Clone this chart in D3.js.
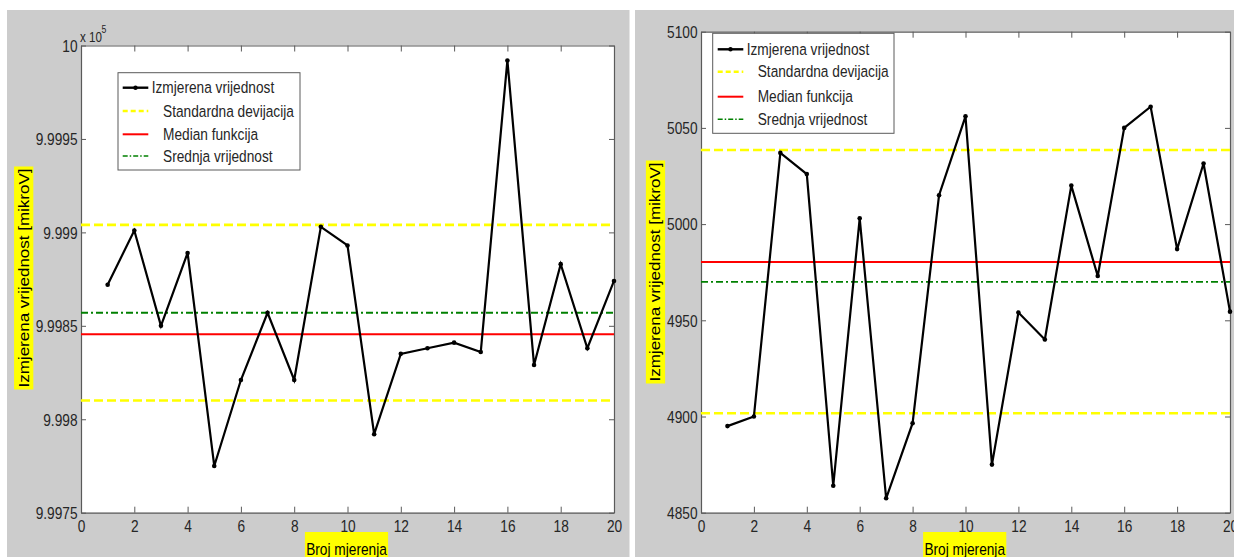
<!DOCTYPE html>
<html>
<head>
<meta charset="utf-8">
<script src="https://cdn.jsdelivr.net/npm/d3@7"></script>
<style>
  html, body { margin: 0; padding: 0; background: #ffffff; }
  svg { display: block; }
  text { font-family: "Liberation Sans", Arial, sans-serif; }
</style>
</head>
<body>
<svg id="chart" width="1234" height="557"></svg>
<script>
// ---------------- DATA ----------------
const measurementNo = [1, 2, 3, 4, 5, 6, 7, 8, 9, 10, 11, 12, 13, 14, 15, 16, 17, 18, 19, 20];
const xTicks = [0, 2, 4, 6, 8, 10, 12, 14, 16, 18, 20];

// left chart (values in units of x 10^5 mikroV)
const leftValues = [9.99872, 9.99901, 9.99850, 9.99889, 9.99775, 9.99821, 9.99857, 9.99821, 9.99903, 9.99893,
                    9.99792, 9.99835, 9.99838, 9.99841, 9.99836, 9.99992, 9.99829, 9.99883, 9.99838, 9.99874];
const leftStdLines = [9.99810, 9.99904];
const leftMedian = 9.998455;
const leftMean = 9.99857;
const leftYDomain = [9.9975, 10];
const leftYTicks = [9.9975, 9.998, 9.9985, 9.999, 9.9995, 10];
const leftYTickLabels = ["9.9975", "9.998", "9.9985", "9.999", "9.9995", "10"];
const leftExponent = "5";

// right chart
const rightValues = [4895, 4900, 5037, 5026, 4864, 5003, 4857.5, 4896.5, 5015, 5056,
                     4875, 4954, 4940, 5020, 4973, 5050, 5061, 4987, 5031.5, 4954.5];
const rightStdLines = [4901.7, 5038.5];
const rightMedian = 4980.3;
const rightMean = 4970;
const rightYDomain = [4850, 5100];
const rightYTicks = [4850, 4900, 4950, 5000, 5050, 5100];
const rightYTickLabels = ["4850", "4900", "4950", "5000", "5050", "5100"];

const legendLabels = ["Izmjerena vrijednost", "Standardna devijacija", "Median funkcija", "Srednja vrijednost"];
const xAxisTitle = "Broj mjerenja";
const yAxisTitle = "Izmjerena vrijednost [mikroV]";

// ---------------- DRAWING ----------------
const svg = d3.select("#chart");
const SX = 0.83;          // horizontal squeeze of the original picture
const FS = 16.5;          // base font size
const TEXT = "#262626";
const AXIS = "#5a5a5a";

function sText(g, x, y, str, opts = {}) {
  const t = g.append("text")
    .attr("transform", `translate(${x},${y}) scale(${SX},1)`)
    .attr("font-size", opts.size || FS)
    .attr("fill", opts.fill || TEXT)
    .attr("text-anchor", opts.anchor || "start")
    .attr("dy", opts.dy || "0.35em")
    .text(str);
  return t;
}

function drawPanel(cfg) {
  const g = svg.append("g");
  // figure background
  g.append("rect").attr("x", cfg.bg[0]).attr("y", cfg.bg[1]).attr("width", cfg.bg[2]).attr("height", cfg.bg[3])
    .attr("fill", "#cccccc");

  const x = d3.scaleLinear().domain([0, 20]).range([cfg.plot.x0, cfg.plot.x1]);
  const y = d3.scaleLinear().domain(cfg.yDomain).range([cfg.plot.y1, cfg.plot.y0]);

  // plot area
  g.append("rect").attr("x", cfg.plot.x0).attr("y", cfg.plot.y0)
    .attr("width", cfg.plot.x1 - cfg.plot.x0).attr("height", cfg.plot.y1 - cfg.plot.y0)
    .attr("fill", "#ffffff");

  // axes with inward ticks
  const styleAxis = sel => {
    sel.select(".domain").attr("stroke", AXIS).attr("stroke-width", 1.2);
    sel.selectAll(".tick line").attr("stroke", AXIS).attr("stroke-width", 1);
  };
  const bottom = g.append("g").attr("transform", `translate(0,${cfg.plot.y1})`)
    .call(d3.axisBottom(x).tickValues(xTicks).tickSizeInner(-6).tickSizeOuter(0).tickFormat(d3.format("d")));
  styleAxis(bottom);
  bottom.selectAll(".tick text").attr("font-size", FS).attr("fill", TEXT)
    .attr("y", 8).attr("dy", "0.71em").attr("transform", `scale(${SX},1)`)
    .attr("x", 0);

  const top = g.append("g").attr("transform", `translate(0,${cfg.plot.y0})`)
    .call(d3.axisTop(x).tickValues(xTicks).tickSizeInner(-6).tickSizeOuter(0).tickFormat(""));
  styleAxis(top);

  const left = g.append("g").attr("transform", `translate(${cfg.plot.x0},0)`)
    .call(d3.axisLeft(y).tickValues(cfg.yTicks).tickSizeInner(-5).tickSizeOuter(0)
      .tickFormat((d, i) => cfg.yTickLabels[i]));
  styleAxis(left);
  left.selectAll(".tick text").attr("font-size", FS).attr("fill", TEXT)
    .attr("x", -3.5 / SX).attr("dy", "0.35em").attr("transform", `scale(${SX},1)`);

  const right = g.append("g").attr("transform", `translate(${cfg.plot.x1},0)`)
    .call(d3.axisRight(y).tickValues(cfg.yTicks).tickSizeInner(-5).tickSizeOuter(0).tickFormat(""));
  styleAxis(right);
  g.selectAll(".domain").attr("fill", "none");
  g.selectAll(".tick text").attr("font-family", '"Liberation Sans", Arial, sans-serif');

  const xr = [0, 20];
  // standard deviation lines
  g.selectAll(".std").data(cfg.std).enter().append("line")
    .attr("x1", x(xr[0])).attr("x2", x(xr[1]))
    .attr("y1", d => y(d)).attr("y2", d => y(d))
    .attr("stroke", "#ffff00").attr("stroke-width", 2.6).attr("stroke-dasharray", "9,4");
  // median
  g.append("line").attr("x1", x(xr[0])).attr("x2", x(xr[1]))
    .attr("y1", y(cfg.median)).attr("y2", y(cfg.median))
    .attr("stroke", "#ff0000").attr("stroke-width", 2);
  // mean
  g.append("line").attr("x1", x(xr[0])).attr("x2", x(xr[1]))
    .attr("y1", y(cfg.mean)).attr("y2", y(cfg.mean))
    .attr("stroke", "#008000").attr("stroke-width", 1.8).attr("stroke-dasharray", "7,3,2,3");

  // measured values
  const line = d3.line().x((d, i) => x(measurementNo[i])).y(d => y(d));
  g.append("path").datum(cfg.values).attr("d", line)
    .attr("fill", "none").attr("stroke", "#000000").attr("stroke-width", 2.2)
    .attr("stroke-linejoin", "miter");
  g.selectAll(".pt").data(cfg.values).enter().append("circle")
    .attr("cx", (d, i) => x(measurementNo[i])).attr("cy", d => y(d)).attr("r", 2.3)
    .attr("fill", "#000000");

  // legend
  const L = cfg.legend;
  g.append("rect").attr("x", L.x).attr("y", L.y).attr("width", L.w).attr("height", L.h)
    .attr("fill", "#ffffff").attr("stroke", AXIS).attr("stroke-width", 1);
  const styles = [
    {stroke: "#000000", w: 2.4, dash: null, marker: true},
    {stroke: "#ffff00", w: 2.4, dash: "5,3", marker: false},
    {stroke: "#ff0000", w: 2, dash: null, marker: false},
    {stroke: "#008000", w: 1.6, dash: "5,2,1.5,2", marker: false}
  ];
  legendLabels.forEach((lab, i) => {
    const ry = L.rows[i];
    const s = styles[i];
    const ln = g.append("line").attr("x1", L.sample[0]).attr("x2", L.sample[1]).attr("y1", ry).attr("y2", ry)
      .attr("stroke", s.stroke).attr("stroke-width", s.w);
    if (s.dash) ln.attr("stroke-dasharray", s.dash);
    if (s.marker) g.append("circle").attr("cx", (L.sample[0] + L.sample[1]) / 2).attr("cy", ry).attr("r", 2.2).attr("fill", "#000");
    sText(g, i === 0 ? L.text0 : L.text, ry, lab, {size: FS});
  });

  // x axis title with yellow background
  const xt = sText(g, cfg.xTitle.cx, cfg.xTitle.base, xAxisTitle, {size: 16.5, anchor: "middle", dy: 0, fill: "#000"});
  const xb = xt.node().getBBox();
  const xw = xb.width * SX + 2;
  g.insert("rect", () => xt.node()).attr("x", cfg.xTitle.cx - xw / 2).attr("y", cfg.xTitle.top)
    .attr("width", xw).attr("height", 30).attr("fill", "#ffff00");

  // y axis title (rotated)
  const yg = g.append("g").attr("transform", `translate(${cfg.yTitle.cx},${cfg.yTitle.cy}) rotate(-90) scale(1,${SX})`);
  const yr = yg.append("rect").attr("fill", "#ffff00");
  const yt = yg.append("text").attr("font-size", 17).attr("fill", "#000").attr("text-anchor", "middle")
    .attr("dy", "0.35em").text(yAxisTitle);
  const yb = yt.node().getBBox();
  yr.attr("x", yb.x - 2).attr("y", -11.6).attr("width", yb.width + 4).attr("height", 23.2);

  // exponent label
  if (cfg.exponent) {
    const eg = g.append("g");
    sText(eg, cfg.exponent.x, cfg.exponent.y, "x 10", {size: 14, dy: 0});
    sText(eg, cfg.exponent.x + 21.5, cfg.exponent.y - 8, cfg.exponent.value, {size: 10.5, dy: 0});
  }
}

drawPanel({
  bg: [7, 10, 622.5, 547],
  plot: {x0: 81, x1: 614, y0: 45.5, y1: 512.7},
  yDomain: leftYDomain, yTicks: leftYTicks, yTickLabels: leftYTickLabels,
  values: leftValues, std: leftStdLines, median: leftMedian, mean: leftMean,
  legend: {x: 118, y: 72.7, w: 182, h: 97.3, rows: [87.7, 111, 134.3, 156], sample: [122.7, 148.3], text0: 151.7, text: 163},
  xTitle: {cx: 346.5, top: 532, base: 549},
  yTitle: {cx: 23.7, cy: 278},
  exponent: {x: 80, y: 37.5, value: leftExponent}
});

drawPanel({
  bg: [635, 10, 599, 547],
  plot: {x0: 701, x1: 1230, y0: 31.7, y1: 512.7},
  yDomain: rightYDomain, yTicks: rightYTicks, yTickLabels: rightYTickLabels,
  values: rightValues, std: rightStdLines, median: rightMedian, mean: rightMean,
  legend: {x: 712.7, y: 33.3, w: 181.3, h: 100, rows: [49.3, 71.7, 96.7, 119.3], sample: [717.7, 743.3], text0: 746.7, text: 757.7},
  xTitle: {cx: 964.7, top: 532, base: 549},
  yTitle: {cx: 655.5, cy: 272},
  exponent: null
});
</script>
</body>
</html>
